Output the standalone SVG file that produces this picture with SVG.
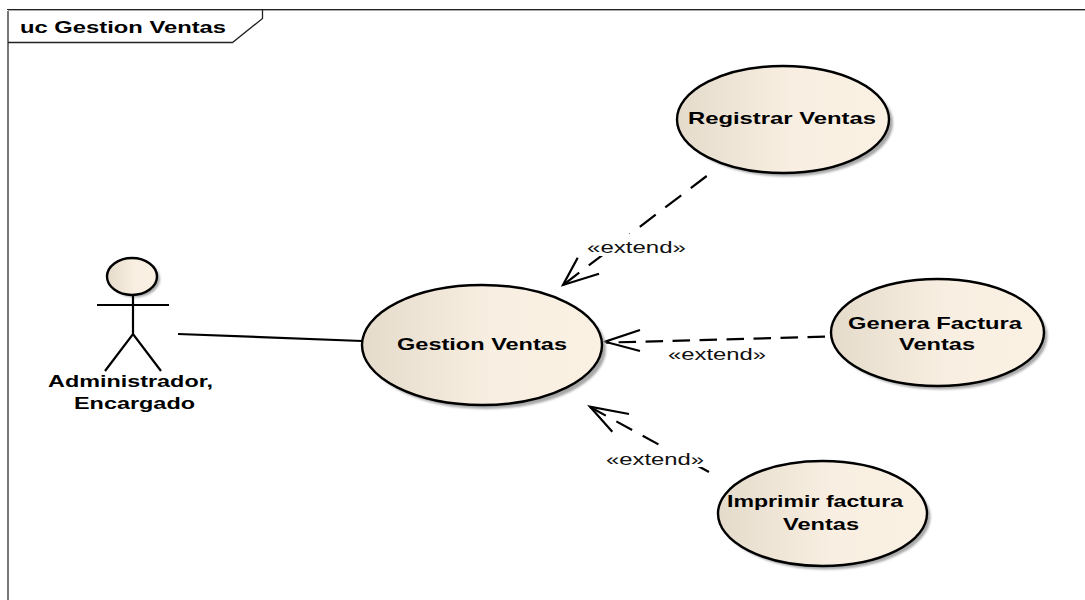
<svg xmlns="http://www.w3.org/2000/svg" width="1085" height="600" viewBox="0 0 1085 600">
<style>
text{font-family:"Liberation Sans",Arial,sans-serif}
.t{font-size:17px;font-weight:700;fill:#000}
.e{font-size:17px;fill:#111}
.u{fill:url(#g);stroke:#000;stroke-width:2.4}
.s{fill:#a8a8a8;filter:url(#b)}
.c{fill:none;stroke:#000;stroke-width:2.2}
.d{fill:none;stroke:#000;stroke-width:2.2}
.a{fill:none;stroke:#000;stroke-width:2.2}
.m{fill:#fff}
</style>
<defs>
<linearGradient id="g" x1="0" x2="1" y1="0" y2="0">
<stop offset="0" stop-color="#e5dbcb"/><stop offset=".55" stop-color="#f8efe2"/><stop offset="1" stop-color="#faf1e3"/>
</linearGradient>
<filter id="b" x="-5%" y="-5%" width="110%" height="110%"><feGaussianBlur stdDeviation="1"/></filter>
</defs>
<rect width="1085" height="600" fill="#fff"/>
<g id="frame">
<path d="M8 600V11" fill="none" stroke="#777" stroke-width="2"/>
<path d="M7 9.5H1085" fill="none" stroke="#222" stroke-width="1"/>
<path d="M8 10.5H1085" fill="none" stroke="#aaa" stroke-width="1"/>
<path d="M8 42.5H232.5L262.5 18.5V9.5" fill="none" stroke="#222" stroke-width="1.3"/>
<text class="t" x="20" y="33" font-size="18" textLength="206" lengthAdjust="spacingAndGlyphs">uc Gestion Ventas</text>
</g>
<g id="connectors">
<path class="c" d="M178 334L362 341"/>
<path class="d" stroke-dasharray="20 12" d="M706.7 176L563 285"/>
<path class="a" d="M577.7 257.7L563 285L599 273.7"/>
<rect class="m" x="585" y="234" width="103" height="22"/>
<path class="d" stroke-dasharray="17.5 9.5" d="M825 336.7L606 342.6"/>
<path class="a" d="M640 330L605 341.7L640 351"/>
<rect class="m" x="666" y="345" width="102" height="19"/>
<path class="d" stroke-dasharray="18 12" d="M590 407L709 472"/>
<path class="a" d="M629 414L590 406.7L612.3 431.7"/>
<rect class="m" x="604" y="448" width="102" height="19"/>
<text class="e" x="587" y="253" textLength="99" lengthAdjust="spacingAndGlyphs">«extend»</text>
<text class="e" x="668" y="360" textLength="98" lengthAdjust="spacingAndGlyphs">«extend»</text>
<text class="e" x="606" y="465" textLength="98" lengthAdjust="spacingAndGlyphs">«extend»</text>
</g>
<g id="actor">
<ellipse class="s" cx="135" cy="279" rx="25" ry="18.5"/>
<ellipse class="u" cx="132" cy="276.5" rx="25" ry="18.5"/>
<path class="c" d="M133 295V334M97 305H169M105 371L133 334L161 371"/>
<text class="t" x="48" y="386.500" textLength="165" lengthAdjust="spacingAndGlyphs">Administrador,</text>
<text class="t" x="74" y="409" textLength="121" lengthAdjust="spacingAndGlyphs">Encargado</text>
</g>
<g id="gestion">
<ellipse class="s" cx="486" cy="349" rx="120" ry="60"/>
<ellipse class="u" cx="482" cy="345" rx="120" ry="60"/>
<text class="t" x="397" y="350" textLength="170" lengthAdjust="spacingAndGlyphs">Gestion Ventas</text>
</g>
<g id="registrar">
<ellipse class="s" cx="787" cy="123" rx="106" ry="53.5"/>
<ellipse class="u" cx="783" cy="119.5" rx="106" ry="53.5"/>
<text class="t" x="688" y="124" textLength="188" lengthAdjust="spacingAndGlyphs">Registrar Ventas</text>
</g>
<g id="genera">
<ellipse class="s" cx="941" cy="336" rx="106.5" ry="53.5"/>
<ellipse class="u" cx="937.5" cy="332.5" rx="106.5" ry="53.5"/>
<text class="t" x="848" y="328.500" textLength="174" lengthAdjust="spacingAndGlyphs">Genera Factura</text>
<text class="t" x="899" y="350" textLength="76" lengthAdjust="spacingAndGlyphs">Ventas</text>
</g>
<g id="imprimir">
<ellipse class="s" cx="826" cy="517" rx="104.5" ry="52.5"/>
<ellipse class="u" cx="822.5" cy="513.5" rx="104.5" ry="52.5"/>
<text class="t" x="727" y="507" textLength="176" lengthAdjust="spacingAndGlyphs">Imprimir factura</text>
<text class="t" x="783" y="530" textLength="76" lengthAdjust="spacingAndGlyphs">Ventas</text>
</g>
</svg>
